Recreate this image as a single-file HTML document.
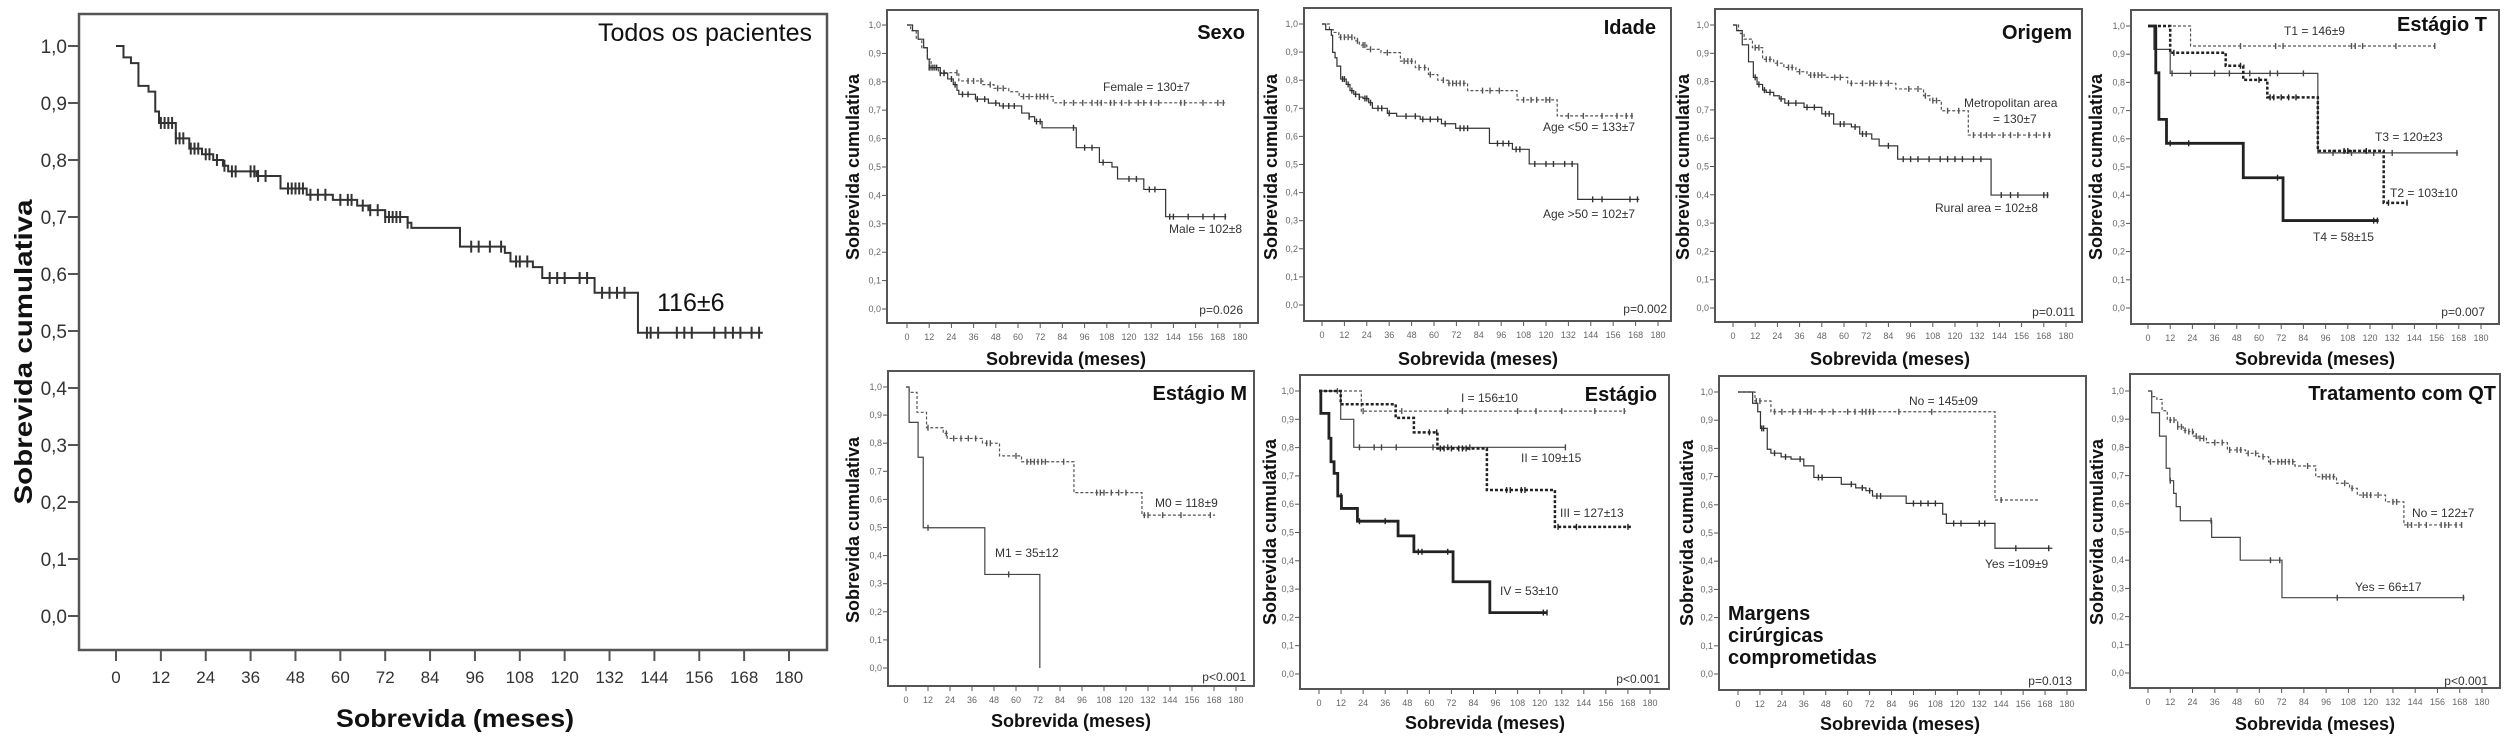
<!DOCTYPE html>
<html><head><meta charset="utf-8"><title>Curvas de sobrevida Kaplan-Meier</title>
<style>
html,body{margin:0;padding:0;background:#fff;}
svg{display:block;font-family:"Liberation Sans",Arial,sans-serif;}
</style></head>
<body>
<svg id="fig" width="2508" height="739" viewBox="0 0 2508 739" xmlns="http://www.w3.org/2000/svg">
<rect x="0" y="0" width="2508" height="739" fill="#fff"/>
</svg>
<script>
// ---------- data (time of each drop, survival after drop, last follow-up, censored times) ----------
const yTickLabels=["0,0","0,1","0,2","0,3","0,4","0,5","0,6","0,7","0,8","0,9","1,0"];
const yTickValues=[0,0.1,0.2,0.3,0.4,0.5,0.6,0.7,0.8,0.9,1.0];
const xTickValues=[0,12,24,36,48,60,72,84,96,108,120,132,144,156,168,180];

const allTimes=[2,4,6,8.7,10.5,11.5,16,19.6,23,26,28.6,30,37.6,44,51,58,64.5,67.5,72,78,79,92,104,105.5,111.5,114,128,139.6];
const allSurv=[0.98,0.97,0.93,0.92,0.885,0.865,0.838,0.82,0.81,0.80,0.79,0.78,0.772,0.75,0.739,0.73,0.72,0.712,0.70,0.69,0.681,0.648,0.637,0.622,0.612,0.593,0.567,0.497];
const allEnd=173;
const allCens=[12,13,14,15,16,17,18,20,21,22,24,25,27,29,31,32,36,37,38,40,46,47,48,49,50,52,54,56,60,62,63,66,68,70,72,73,74,75,76,78,95,97,100,103,107,108,110,116,118,120,124,126,130,132,134,136,142,143,145,150,152,154,160,163,165,167,170,172];

const femTimes=[2,5,8,11,13,17,28,41,47,55,60.6,79];
const femSurv=[0.98,0.95,0.92,0.88,0.85,0.832,0.803,0.79,0.777,0.765,0.748,0.726];
const femEnd=172;
const femCens=[13,15,20,27,33,36,40,45,49,52,63,66,70,72,74,76,85,90,95,100,103,105,110,112,116,120,125,128,132,136,148,150,160,168,171];
const maleTimes=[3,6,9,11,12,18,22,25,27,28,37,44,50,62,66,69,73,91.5,104,110.8,113.8,128,139.8];
const maleSurv=[0.98,0.95,0.92,0.88,0.85,0.83,0.81,0.79,0.77,0.756,0.739,0.725,0.715,0.69,0.677,0.66,0.638,0.568,0.516,0.50,0.458,0.421,0.325];
const maleEnd=172.6;
const maleCens=[12,14,16,18,20,24,26,30,33,38,42,48,52,55,58,66,70,72,90,96,100,106,120,124,131,134,142,144,152,160,166,172];

const youngTimes=[4,6,9,17.5,20,24,31.6,42,50,57,62,67.5,78,104.5,126];
const youngSurv=[0.98,0.97,0.953,0.94,0.925,0.91,0.898,0.868,0.845,0.82,0.80,0.789,0.763,0.73,0.673];
const youngEnd=167;
const youngCens=[10,12,14,16,19,22,23,26,35,44,46,48,52,55,58,65,68,70,72,74,76,86,90,95,108,112,115,120,122,132,140,150,158,163,166];
const oldTimes=[2,5,5.7,7,8,10,13,15,17,20,22,25,27,35,40,52.6,64,71.6,89.7,102,111,137];
const oldSurv=[0.98,0.96,0.899,0.88,0.85,0.804,0.785,0.763,0.75,0.74,0.735,0.72,0.70,0.682,0.672,0.661,0.645,0.629,0.575,0.554,0.502,0.376];
const oldEnd=170;
const oldCens=[11,12,14,16,18,20,23,24,26,30,32,36,45,50,54,58,62,66,74,76,78,94,97,100,104,106,114,120,124,130,134,145,150,165,169];

const metroTimes=[3,4,6,10.5,16,22,27.5,34,40,50,62,88,103,106.4,112.6,127.2];
const metroSurv=[0.98,0.97,0.95,0.92,0.879,0.865,0.85,0.835,0.823,0.815,0.794,0.774,0.75,0.733,0.697,0.611];
const metroEnd=172;
const metroCens=[12,14,18,20,24,30,32,36,42,44,46,48,55,58,64,70,74,76,80,84,95,100,104,108,110,116,122,130,134,137,140,146,150,154,160,164,168,171];
const ruralTimes=[2,5,8.4,11,13,16,18,22,25,28,38.4,48,54.4,64,68.5,75,79,89,139.5];
const ruralSurv=[0.98,0.93,0.87,0.815,0.79,0.77,0.762,0.75,0.739,0.724,0.709,0.686,0.65,0.64,0.615,0.597,0.573,0.526,0.399];
const ruralEnd=170.6;
const ruralCens=[12,14,17,20,26,30,34,40,44,50,52,58,60,66,70,72,84,92,96,100,106,112,116,120,124,130,134,145,150,154,168,170];

const t1Times=[23]; const t1Surv=[0.929]; const t1End=155; const t1Cens=[50,69,73,110,112,116,134,155];
const t2Times=[12,42,51.5,64.5,91.8,127.4]; const t2Surv=[0.905,0.859,0.809,0.747,0.557,0.373]; const t2End=140.4; const t2Cens=[14,50,60,66,68,72,76,80,106,108,118,130,140];
const t3Times=[3.2,12,91.8]; const t3Surv=[0.917,0.832,0.55]; const t3End=167.6; const t3Cens=[13,23,36,44,55,66,70,84,100,110,122,132,167];
const t4Times=[4.2,5.9,10,51.5,73]; const t4Surv=[0.834,0.669,0.584,0.462,0.31]; const t4End=124.7; const t4Cens=[12,22,70,122,124];

const m0Times=[1.7,6,11.2,20.3,22.5,41.7,51,63,91.6,128.7]; const m0Surv=[0.981,0.91,0.855,0.835,0.817,0.80,0.755,0.734,0.624,0.544]; const m0End=168.6;
const m0Cens=[12,22,26,30,34,38,44,46,60,66,68,70,72,74,76,86,104,106,108,112,116,120,130,132,140,150,166];
const m1Times=[1.7,6.6,9.4,43,73]; const m1Surv=[0.874,0.75,0.499,0.333,0]; const m1End=73; const m1Cens=[12,56];

const s1Times=[23]; const s1Surv=[0.929]; const s1End=166.8; const s1Cens=[10,24,45,70,78,108,118,132,150,166];
const s2Times=[11.8,18.9]; const s2Surv=[0.9,0.801]; const s2End=134; const s2Cens=[22,30,34,42,62,70,82,134];
const s3Times=[11.8,41.7,51.6,64.4,91.3,128.3]; const s3Surv=[0.953,0.905,0.854,0.797,0.65,0.52]; const s3End=169.6; const s3Cens=[60,64,66,68,72,76,78,80,102,104,110,112,130,140,168];
const s4Times=[1,5.4,6.5,8.2,10.2,12.2,20.9,43,51.6,72.9,92.9]; const s4Surv=[0.921,0.833,0.75,0.709,0.629,0.585,0.54,0.488,0.432,0.326,0.217]; const s4End=124; const s4Cens=[12,22,36,54,56,70,122,124];

const margNoTimes=[9.3,18,140.6]; const margNoSurv=[0.968,0.93,0.617]; const margNoEnd=165;
const margNoCens=[10,12,20,24,30,34,38,40,46,52,60,64,68,70,72,74,88,106,144];
const margYesTimes=[8,10.8,12.3,16,18,23.6,29,36,41.5,56.5,64.4,70,73.6,92,112,114,140.6];
const margYesSurv=[0.96,0.93,0.871,0.797,0.783,0.77,0.762,0.738,0.697,0.673,0.66,0.65,0.631,0.605,0.567,0.534,0.446];
const margYesEnd=172;
const margYesCens=[13,14,20,26,34,44,46,62,68,72,76,78,96,100,104,108,118,122,132,135,152,170];

const qtNoTimes=[2,4.8,7.6,10.4,16,19,22,24.5,27,31.5,42.8,52.6,59.6,65,79.2,90.4,101.6,108.6,112.8,128,137.9];
const qtNoSurv=[0.98,0.97,0.93,0.897,0.873,0.86,0.856,0.84,0.832,0.817,0.791,0.779,0.767,0.749,0.734,0.696,0.673,0.655,0.631,0.607,0.525];
const qtNoEnd=169;
const qtNoCens=[12,14,16,18,20,22,24,26,28,30,36,40,44,48,50,54,58,62,66,70,72,74,76,78,86,94,96,98,100,106,110,116,118,120,124,132,134,140,142,146,150,158,160,162,166,169];
const qtYesTimes=[2,6.2,9.8,11.8,13.8,15.2,17.4,34.3,49.7,72.2];
const qtYesSurv=[0.923,0.84,0.726,0.682,0.637,0.59,0.54,0.481,0.40,0.267];
const qtYesEnd=170.6;
const qtYesCens=[12,34,66,71,102,170];

// ---------- rendering ----------
const NS="http://www.w3.org/2000/svg";
const svg=document.getElementById("fig");
function mk(tag,attrs,parent){const e=document.createElementNS(NS,tag);for(const k in attrs)e.setAttribute(k,attrs[k]);(parent||svg).appendChild(e);return e;}
function survAt(times,surv,t){let s=1;for(let i=0;i<times.length;i++){if(times[i]<=t)s=surv[i];}return s;}

function drawPanel(cfg,series,labels){
  const g=mk("g",{});
  
  
  const X=t=>cfg.x0+(t/180)*(cfg.x180-cfg.x0);
  const Y=v=>cfg.y0-v*(cfg.y0-cfg.y1);
  const fr=mk("rect",{x:cfg.fx1,y:cfg.fy1,width:cfg.fx2-cfg.fx1,height:cfg.fy2-cfg.fy1,fill:"none",stroke:"#555","stroke-width":cfg.big?2.5:2},g);
  
  
  const yAxis=mk("g",{},g);
  
  
  yTickValues.forEach((v,i)=>{
    const y=Y(v);
    mk("line",{x1:cfg.fx1-(cfg.big?11:5),x2:cfg.fx1,y1:y,y2:y,stroke:"#555","stroke-width":cfg.big?2:1},yAxis);
    const t=mk("text",{x:cfg.fx1-(cfg.big?12:6),y:y+(cfg.big?7:3),"text-anchor":"end","font-size":cfg.big?19:9,fill:cfg.big?"#333":"#666"},yAxis);
    t.textContent=yTickLabels[i];
    
    
  });
  const xAxis=mk("g",{},g);
  
  
  xTickValues.forEach(v=>{
    const x=X(v);
    mk("line",{x1:x,x2:x,y1:cfg.fy2,y2:cfg.fy2+(cfg.big?11:5),stroke:"#555","stroke-width":cfg.big?2:1},xAxis);
    const t=mk("text",{x:x,y:cfg.fy2+(cfg.big?33:17),"text-anchor":"middle","font-size":cfg.big?17:9,fill:cfg.big?"#333":"#666"},xAxis);
    t.textContent=String(v);
    
    
  });
  const xt=mk("text",{x:cfg.xtX,y:cfg.xtY,"text-anchor":"middle","font-size":cfg.big?25:18,"font-weight":"bold",fill:"#111"},g);
  if(cfg.big){xt.setAttribute("textLength","238");xt.setAttribute("lengthAdjust","spacingAndGlyphs");}
  xt.textContent="Sobrevida (meses)";
  
  
  const yt=mk("text",{x:0,y:0,"text-anchor":"middle","font-size":cfg.big?25:18,"font-weight":"bold",fill:"#111",transform:"translate("+cfg.ytX+","+cfg.ytY+") rotate(-90)"},g);
  if(cfg.big){yt.setAttribute("textLength","305");yt.setAttribute("lengthAdjust","spacingAndGlyphs");}
  yt.textContent="Sobrevida cumulativa";
  
  
  series.forEach(s=>{
    const sg=mk("g",{},g);
    
    
    let d="M"+X(0)+","+Y(1);
    for(let i=0;i<s.times.length;i++){d+=" H"+X(s.times[i])+" V"+Y(s.surv[i]);}
    d+=" H"+X(s.end);
    const p=mk("path",{d:d,fill:"none",stroke:s.color||"#333","stroke-width":s.w||1.2},sg);
    if(s.dash)p.setAttribute("stroke-dasharray",s.dash);
    
    
    const ch=cfg.big?6:3;
    s.cens.forEach(t=>{
      const v=survAt(s.times,s.surv,t);
      const c=mk("line",{x1:X(t),x2:X(t),y1:Y(v)-ch,y2:Y(v)+ch,stroke:s.color||"#333","stroke-width":cfg.big?2:1.4},sg);
      
      
    });
  });
  labels.forEach(l=>{
    const t=mk("text",{x:l.x,y:l.y,"text-anchor":l.a||"start","font-size":l.s||12,"font-weight":l.b?"bold":"normal",fill:l.c||"#333"},g);
    t.textContent=l.t;
    
    
  });
}

const DASH="3,2";
drawPanel({name:"panel-todos-pacientes",big:true,fx1:79,fy1:14,fx2:827,fy2:650,x0:116,x180:789,y1:46,y0:616,xtX:455,xtY:727,ytX:32,ytY:352},
 [{name:"series-all",times:allTimes,surv:allSurv,end:allEnd,cens:allCens,w:2,color:"#333"}],
 [{t:"Todos os pacientes",x:812,y:41,a:"end",s:25,c:"#111",n:"panel-title"},
  {t:"116±6",x:657,y:311,s:25,c:"#111",n:"median-label"}]);

drawPanel({name:"panel-sexo",fx1:887,fy1:10,fx2:1258,fy2:323,x0:907,x180:1240,y1:25,y0:309,xtX:1066,xtY:365,ytX:859,ytY:167},
 [{name:"series-female",times:femTimes,surv:femSurv,end:femEnd,cens:femCens,dash:DASH,color:"#555"},
  {name:"series-male",times:maleTimes,surv:maleSurv,end:maleEnd,cens:maleCens,color:"#333"}],
 [{t:"Sexo",x:1245,y:39,a:"end",s:20,b:true,c:"#111",n:"panel-title"},
  {t:"Female = 130±7",x:1103,y:91,n:"legend-female"},
  {t:"Male = 102±8",x:1242,y:233,a:"end",n:"legend-male"},
  {t:"p=0.026",x:1243,y:314,a:"end",n:"p-value"}]);

drawPanel({name:"panel-idade",fx1:1304,fy1:8,fx2:1671,fy2:321,x0:1322,x180:1658,y1:24,y0:305,xtX:1478,xtY:365,ytX:1277,ytY:167},
 [{name:"series-age-under-50",times:youngTimes,surv:youngSurv,end:youngEnd,cens:youngCens,dash:DASH,color:"#555"},
  {name:"series-age-over-50",times:oldTimes,surv:oldSurv,end:oldEnd,cens:oldCens,color:"#333"}],
 [{t:"Idade",x:1656,y:34,a:"end",s:20,b:true,c:"#111",n:"panel-title"},
  {t:"Age <50 = 133±7",x:1543,y:131,n:"legend-age-under-50"},
  {t:"Age >50 = 102±7",x:1543,y:218,n:"legend-age-over-50"},
  {t:"p=0.002",x:1667,y:313,a:"end",n:"p-value"}]);

drawPanel({name:"panel-origem",fx1:1715,fy1:9,fx2:2082,fy2:322,x0:1733,x180:2066,y1:25,y0:308,xtX:1890,xtY:365,ytX:1689,ytY:167},
 [{name:"series-metropolitan",times:metroTimes,surv:metroSurv,end:metroEnd,cens:metroCens,dash:DASH,color:"#555"},
  {name:"series-rural",times:ruralTimes,surv:ruralSurv,end:ruralEnd,cens:ruralCens,color:"#333"}],
 [{t:"Origem",x:2072,y:39,a:"end",s:20,b:true,c:"#111",n:"panel-title"},
  {t:"Metropolitan area",x:1964,y:107,n:"legend-metropolitan"},
  {t:"= 130±7",x:1993,y:123,n:"legend-metropolitan-value"},
  {t:"Rural area = 102±8",x:1935,y:212,n:"legend-rural"},
  {t:"p=0.011",x:2075,y:316,a:"end",n:"p-value"}]);

drawPanel({name:"panel-estagio-t",fx1:2131,fy1:10,fx2:2499,fy2:324,x0:2148,x180:2481,y1:26,y0:308,xtX:2315,xtY:365,ytX:2102,ytY:167},
 [{name:"series-t1",times:t1Times,surv:t1Surv,end:t1End,cens:t1Cens,dash:DASH,color:"#555"},
  {name:"series-t3",times:t3Times,surv:t3Surv,end:t3End,cens:t3Cens,color:"#444"},
  {name:"series-t2",times:t2Times,surv:t2Surv,end:t2End,cens:t2Cens,dash:DASH,w:2.5,color:"#222"},
  {name:"series-t4",times:t4Times,surv:t4Surv,end:t4End,cens:t4Cens,w:2.8,color:"#222"}],
 [{t:"Estágio T",x:2487,y:31,a:"end",s:20,b:true,c:"#111",n:"panel-title"},
  {t:"T1 = 146±9",x:2284,y:35,n:"legend-t1"},
  {t:"T3 = 120±23",x:2375,y:141,n:"legend-t3"},
  {t:"T2 = 103±10",x:2390,y:197,n:"legend-t2"},
  {t:"T4 = 58±15",x:2313,y:241,n:"legend-t4"},
  {t:"p=0.007",x:2485,y:316,a:"end",n:"p-value"}]);

drawPanel({name:"panel-estagio-m",fx1:888,fy1:371,fx2:1254,fy2:686,x0:906,x180:1236,y1:387,y0:668,xtX:1071,xtY:727,ytX:859,ytY:530},
 [{name:"series-m0",times:m0Times,surv:m0Surv,end:m0End,cens:m0Cens,dash:DASH,color:"#555"},
  {name:"series-m1",times:m1Times,surv:m1Surv,end:m1End,cens:m1Cens,color:"#444"}],
 [{t:"Estágio M",x:1247,y:400,a:"end",s:20,b:true,c:"#111",n:"panel-title"},
  {t:"M0 = 118±9",x:1155,y:507,n:"legend-m0"},
  {t:"M1 = 35±12",x:995,y:557,n:"legend-m1"},
  {t:"p<0.001",x:1246,y:681,a:"end",n:"p-value"}]);

drawPanel({name:"panel-estagio",fx1:1300,fy1:375,fx2:1669,fy2:689,x0:1319,x180:1650,y1:391,y0:674,xtX:1485,xtY:729,ytX:1276,ytY:532},
 [{name:"series-stage-i",times:s1Times,surv:s1Surv,end:s1End,cens:s1Cens,dash:DASH,color:"#555"},
  {name:"series-stage-ii",times:s2Times,surv:s2Surv,end:s2End,cens:s2Cens,color:"#444"},
  {name:"series-stage-iii",times:s3Times,surv:s3Surv,end:s3End,cens:s3Cens,dash:DASH,w:2.5,color:"#222"},
  {name:"series-stage-iv",times:s4Times,surv:s4Surv,end:s4End,cens:s4Cens,w:2.8,color:"#222"}],
 [{t:"Estágio",x:1657,y:401,a:"end",s:20,b:true,c:"#111",n:"panel-title"},
  {t:"I = 156±10",x:1461,y:402,n:"legend-stage-i"},
  {t:"II = 109±15",x:1521,y:462,n:"legend-stage-ii"},
  {t:"III = 127±13",x:1560,y:517,n:"legend-stage-iii"},
  {t:"IV = 53±10",x:1500,y:595,n:"legend-stage-iv"},
  {t:"p<0.001",x:1660,y:683,a:"end",n:"p-value"}]);

drawPanel({name:"panel-margens",fx1:1719,fy1:376,fx2:2086,fy2:690,x0:1738,x180:2067,y1:392,y0:674,xtX:1900,xtY:730,ytX:1693,ytY:533},
 [{name:"series-margins-no",times:margNoTimes,surv:margNoSurv,end:margNoEnd,cens:margNoCens,dash:DASH,color:"#555"},
  {name:"series-margins-yes",times:margYesTimes,surv:margYesSurv,end:margYesEnd,cens:margYesCens,color:"#333"}],
 [{t:"No = 145±09",x:1909,y:405,n:"legend-margins-no"},
  {t:"Yes =109±9",x:1985,y:568,n:"legend-margins-yes"},
  {t:"Margens",x:1728,y:620,s:20,b:true,c:"#111",n:"panel-title-line1"},
  {t:"cirúrgicas",x:1728,y:642,s:20,b:true,c:"#111",n:"panel-title-line2"},
  {t:"comprometidas",x:1728,y:664,s:20,b:true,c:"#111",n:"panel-title-line3"},
  {t:"p=0.013",x:2072,y:685,a:"end",n:"p-value"}]);

drawPanel({name:"panel-tratamento-qt",fx1:2130,fy1:374,fx2:2500,fy2:688,x0:2148,x180:2482,y1:391,y0:673,xtX:2315,xtY:730,ytX:2103,ytY:532},
 [{name:"series-qt-no",times:qtNoTimes,surv:qtNoSurv,end:qtNoEnd,cens:qtNoCens,dash:DASH,color:"#555"},
  {name:"series-qt-yes",times:qtYesTimes,surv:qtYesSurv,end:qtYesEnd,cens:qtYesCens,color:"#444"}],
 [{t:"Tratamento com QT",x:2496,y:400,a:"end",s:20,b:true,c:"#111",n:"panel-title"},
  {t:"No = 122±7",x:2412,y:517,n:"legend-qt-no"},
  {t:"Yes = 66±17",x:2355,y:591,n:"legend-qt-yes"},
  {t:"p<0.001",x:2488,y:685,a:"end",n:"p-value"}]);
</script>
</body></html>
